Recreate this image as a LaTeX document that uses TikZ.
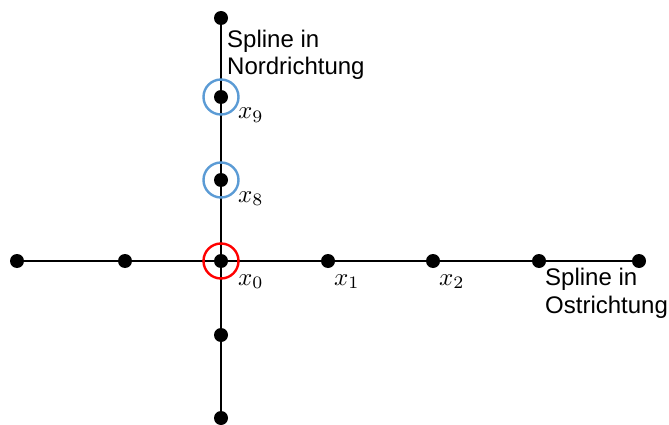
\documentclass[tikz,border=0pt]{standalone}
\usepackage{fontspec}
\setmainfont{Liberation Sans}
\usetikzlibrary{backgrounds}
\definecolor{ringblue}{RGB}{91,155,213}
\definecolor{ringred}{RGB}{255,0,0}
\newcommand{\mlab}[1]{\scalebox{2.5}{$#1$}}
\begin{document}
\begin{tikzpicture}[x=1pt,y=-1pt,
  dot/.style={circle,fill=black,inner sep=0pt,minimum size=14pt},
  ring/.style={circle,draw,line width=2.4pt,inner sep=0pt,minimum size=35pt},
  axis/.style={line width=1.7pt,black},
  lbl/.style={font=\fontsize{24}{27.5}\selectfont,align=left,anchor=base west,inner sep=0pt},
  mlbl/.style={anchor=base west,inner sep=0pt}]
\useasboundingbox (0,0) rectangle (669,425);
% horizontal dots
\node[dot] (h1) at (17,261) {};
\node[dot] (h2) at (125,261) {};
\node[dot] (h3) at (221,261) {};
\node[dot] (h4) at (328,261) {};
\node[dot] (h5) at (433,261) {};
\node[dot] (h6) at (539,261) {};
\node[dot] (h7) at (639,261) {};
% vertical dots
\node[dot] (v1) at (221,18) {};
\node[dot] (v2) at (221,97) {};
\node[dot] (v3) at (221,180) {};
\node[dot] (v5) at (221,335) {};
\node[dot] (v6) at (221,418) {};
\begin{scope}[on background layer]
\draw[axis] (h1.center) -- (h7.center);
\draw[axis] (v1.center) -- (v6.center);
\end{scope}
% rings
\node[ring,draw=ringblue] (r9) at (v2) {};
\node[ring,draw=ringblue] (r8) at (v3) {};
\node[ring,draw=ringred] (r0) at (h3) {};
% labels
\node[lbl] (nord) at (227,75) {Spline in\\Nordrichtung};
\node[lbl] (ost) at (545,313) {Spline in\\Ostrichtung};
\node[mlbl] (l9) at (238,119) {\mlab{x_9}};
\node[mlbl] (l8) at (238,202) {\mlab{x_8}};
\node[mlbl] (l0) at (238,285) {\mlab{x_0}};
\node[mlbl] (l1) at (334,285) {\mlab{x_1}};
\node[mlbl] (l2) at (439,285) {\mlab{x_2}};
\end{tikzpicture}
\end{document}
